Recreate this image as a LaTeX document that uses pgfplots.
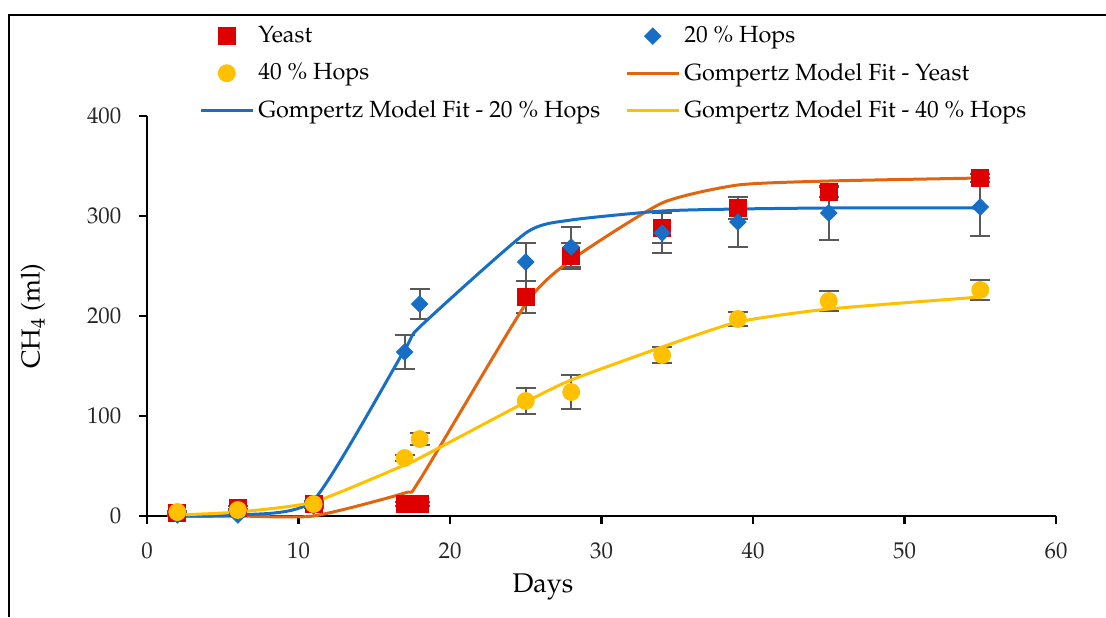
\documentclass[border=0pt]{standalone}
\usepackage[T1]{fontenc}
\usepackage{mathpazo}
\usepackage{pgfplots}
\pgfplotsset{compat=1.18}

\definecolor{yeastred}{RGB}{222,0,0}
\definecolor{hopsblue}{RGB}{22,110,198}
\definecolor{hopsgold}{RGB}{255,192,0}
\definecolor{fitorange}{RGB}{226,100,12}
\definecolor{errgray}{RGB}{89,89,89}

\begin{document}
\fontsize{11}{13}\selectfont
\begin{tikzpicture}
\useasboundingbox (0pt,0pt) rectangle (553pt,308.5pt);
% outer frame (top and left edges)
\draw[line width=1pt] (4.5pt,0pt) -- (4.5pt,301pt) -- (553pt,301pt);
\begin{axis}[
  at={(73.5pt,50.5pt)}, anchor=south west,
  scale only axis, width=454.5pt, height=200pt,
  xmin=0, xmax=60, ymin=0, ymax=400,
  axis x line=bottom, axis y line=left,
  axis line style={-, line width=1.3pt, black},
  xtick={0,10,...,60}, ytick={0,100,...,400},
  tick align=outside, major tick length=4pt,
  every tick/.style={black, line width=1.2pt},
  tick label style={font=\fontsize{11.4}{13}\selectfont, text=black!85},
  xticklabel style={yshift=-5.5pt},
  yticklabel style={xshift=-5pt},
  xlabel={Days}, ylabel={CH$_4$ (ml)},
  every axis x label/.style={at={(axis description cs:0.4356,-0.178)}, anchor=center,
    font=\fontsize{13.5}{15}\selectfont},
  every axis y label/.style={at={(axis description cs:-0.1254,0.5)}, rotate=90, anchor=center,
    font=\fontsize{13}{15}\selectfont},
  clip=false,
  legend columns=2,
  legend cell align=left,
  legend style={at={(0.0505,1.245)}, anchor=north west, draw=none, fill=none,
    font=\fontsize{11.7}{13.5}\selectfont, row sep=4.6pt},
  legend image code/.code={\draw[mark repeat=2,mark phase=2,#1] plot coordinates {(0pt,0pt) (13pt,0pt) (26pt,0pt)};},
  error bars/y dir=both, error bars/y explicit,
  error bars/error bar style={line width=1pt, errgray},
  error bars/error mark options={rotate=90, mark size=5pt, line width=1pt, errgray},
]

% measured methane volumes (mean with standard deviation)
\addplot[only marks, mark=square*, mark size=4.25pt, color=yeastred]
  coordinates {(2,3)+-(0,2) (6,8)+-(0,2) (11,12)+-(0,3) (17,12)+-(0,2) (18,12)+-(0,2)
    (25,219)+-(0,16) (28,260)+-(0,13) (34,288)+-(0,15) (39,308)+-(0,11) (45,324)+-(0,5) (55,338)+-(0,4)};
\addlegendentry{\makebox[181.5pt][l]{Yeast}}

\addplot[only marks, mark=square*, mark size=2.9pt, mark options={rotate=45}, color=hopsblue]
  coordinates {(2,1)+-(0,1) (6,1)+-(0,1) (11,10)+-(0,2) (17,164)+-(0,17) (18,212)+-(0,15)
    (25,254)+-(0,19) (28,269)+-(0,20) (34,283)+-(0,20) (39,294)+-(0,25) (45,303)+-(0,27) (55,309)+-(0,29)};
\addlegendentry{20 \% Hops}

\addplot[only marks, mark=*, mark size=4.25pt, color=hopsgold]
  coordinates {(2,4)+-(0,1) (6,6)+-(0,1) (11,12)+-(0,2) (17,58)+-(0,3) (18,77)+-(0,6)
    (25,115)+-(0,13) (28,124)+-(0,17) (34,161)+-(0,8) (39,197)+-(0,7) (45,215)+-(0,10) (55,226)+-(0,10)};
\addlegendentry{\makebox[181.5pt][l]{40 \% Hops}}

% Gompertz model values at the sampling days
\addplot[smooth, tension=0.35, no marks, line width=1.5pt, color=fitorange, error bars/y dir=none]
  coordinates {(2,0) (6,0) (11,0) (17,23) (18,36) (25,212) (28,256) (34,313) (39,331) (45,335) (55,338)};
\addlegendentry{Gompertz Model Fit - Yeast}

\addplot[smooth, tension=0.35, no marks, line width=1.5pt, color=hopsblue, error bars/y dir=none]
  coordinates {(2,0) (6,1) (11,16) (17,166) (18,189) (25,283) (28,296) (34,305) (39,307) (45,308) (55,308)};
\addlegendentry{\makebox[181.5pt][l]{Gompertz Model Fit - 20 \% Hops}}

\addplot[smooth, tension=0.35, no marks, line width=1.5pt, color=hopsgold, error bars/y dir=none]
  coordinates {(2,1) (6,4) (11,14) (17,51) (18,58) (25,114) (28,136) (34,169) (39,194) (45,207) (55,219)};
\addlegendentry{Gompertz Model Fit - 40 \% Hops}

\end{axis}
\end{tikzpicture}
\end{document}
